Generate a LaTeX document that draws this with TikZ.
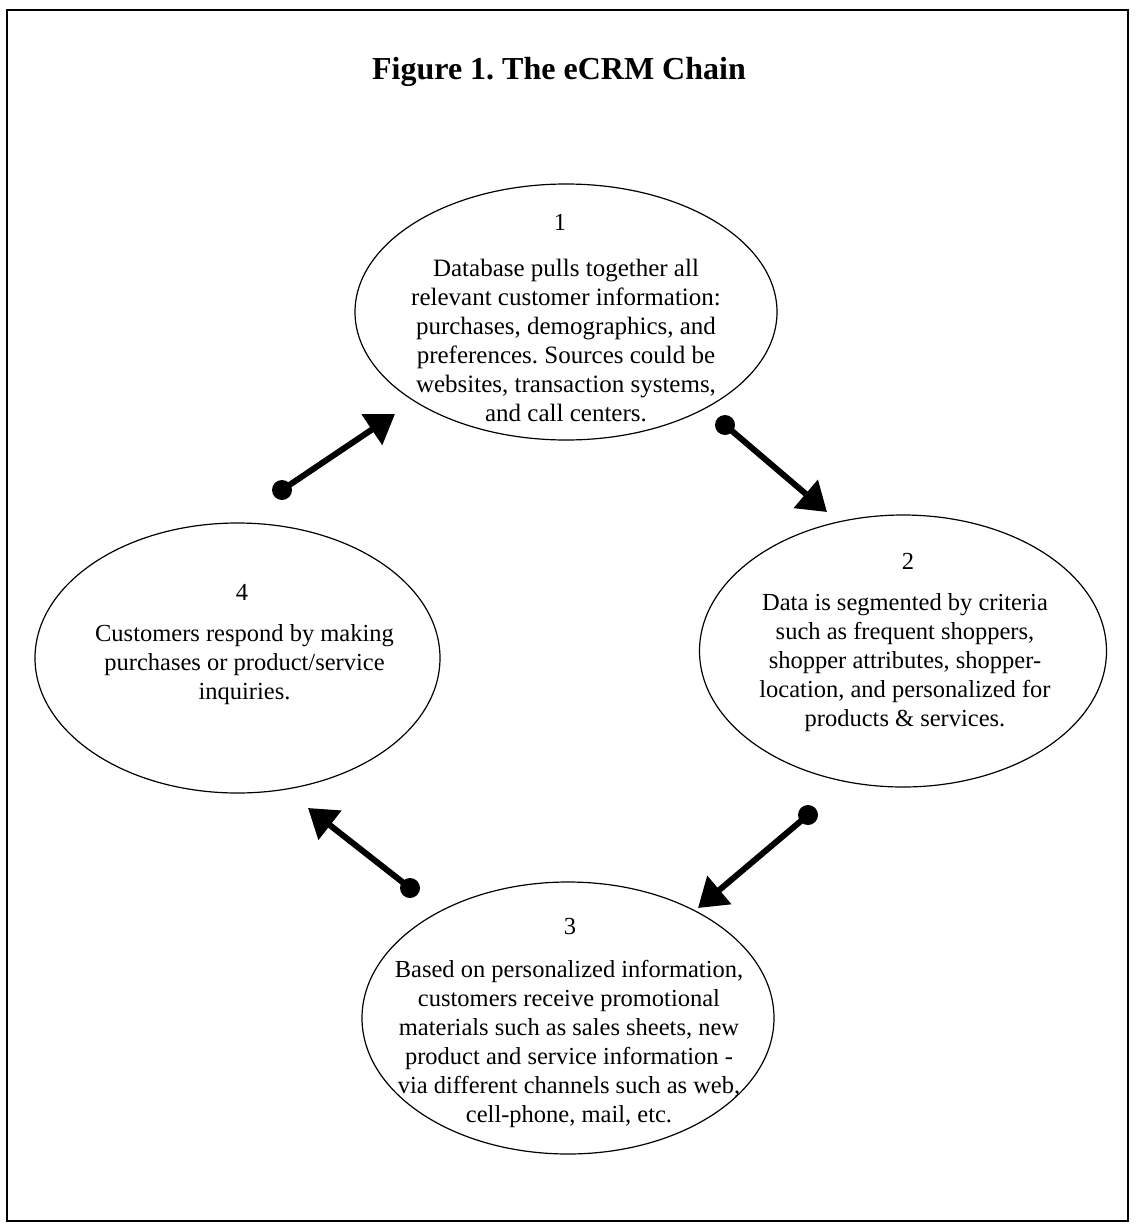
\documentclass[tikz,border=0pt]{standalone}
\usepackage{fontspec}
\setmainfont{Liberation Serif}
\usetikzlibrary{shapes.geometric,arrows.meta}
\frenchspacing
\begin{document}
\begin{tikzpicture}[x=1pt,y=-1pt,
  ell/.style={draw,ellipse,line width=1.2pt,inner sep=0pt},
  num/.style={font=\fontsize{24.5}{29}\selectfont,inner sep=0pt},
  body/.style={font=\fontsize{24.5}{29}\selectfont,align=center,inner sep=0pt},
  flow/.style={line width=6pt,-{Triangle[length=28pt,width=36pt]}},
  dotend/.style={fill=black}]
\useasboundingbox (0,0) rectangle (1139,1225);
\node[draw,line width=2pt,minimum width=1121pt,minimum height=1211pt,inner sep=0pt] (frame) at (567.5,615.5) {};
\node[font=\fontsize{32}{38}\selectfont\bfseries,inner sep=0pt] (title) at (559,72) {Figure 1. The eCRM Chain};

% ellipses
\node[ell,minimum width=422pt,minimum height=256pt] (e1) at (566,312) {};
\node[ell,minimum width=407pt,minimum height=272pt] (e2) at (903,651) {};
\node[ell,minimum width=412pt,minimum height=272pt] (e3) at (568,1018) {};
\node[ell,minimum width=405pt,minimum height=270pt] (e4) at (237.5,658) {};

% texts
\node[num] (n1) at (560,222) {1};
\node[body,font=\fontsize{25}{29}\selectfont] (t1) at (566,341) {Database pulls together all\\relevant customer information:\\purchases, demographics, and\\preferences. Sources could be\\websites, transaction systems,\\and call centers.};
\node[num] (n2) at (908,561) {2};
\node[body] (t2) at (905,663) {Data is segmented by criteria\\such as frequent shoppers,\\shopper attributes, shopper-\\location, and personalized for\\products \& services.};
\node[num] (n3) at (570,926) {3};
\node[body] (t3) at (569,1044) {Based on personalized information,\\customers receive promotional\\materials such as sales sheets, new\\product and service information -\\via different channels such as web,\\cell-phone, mail, etc.};
\node[num] (n4) at (242,592) {4};
\node[body] (t4) at (244.5,665) {Customers respond by making\\purchases or product/service\\inquiries.};

% arrows
\coordinate (a1s) at (282,490); \coordinate (a1e) at (395,414);
\coordinate (a2s) at (725,425); \coordinate (a2e) at (827,512);
\coordinate (a3s) at (808,815); \coordinate (a3e) at (698,908);
\coordinate (a4s) at (410,888); \coordinate (a4e) at (308,808);
\draw[flow] (a1s) -- (a1e);
\draw[flow] (a2s) -- (a2e);
\draw[flow] (a3s) -- (a3e);
\draw[flow] (a4s) -- (a4e);
\fill[dotend] (a1s) circle (10pt);
\fill[dotend] (a2s) circle (10pt);
\fill[dotend] (a3s) circle (10pt);
\fill[dotend] (a4s) circle (10pt);
\end{tikzpicture}
\end{document}
